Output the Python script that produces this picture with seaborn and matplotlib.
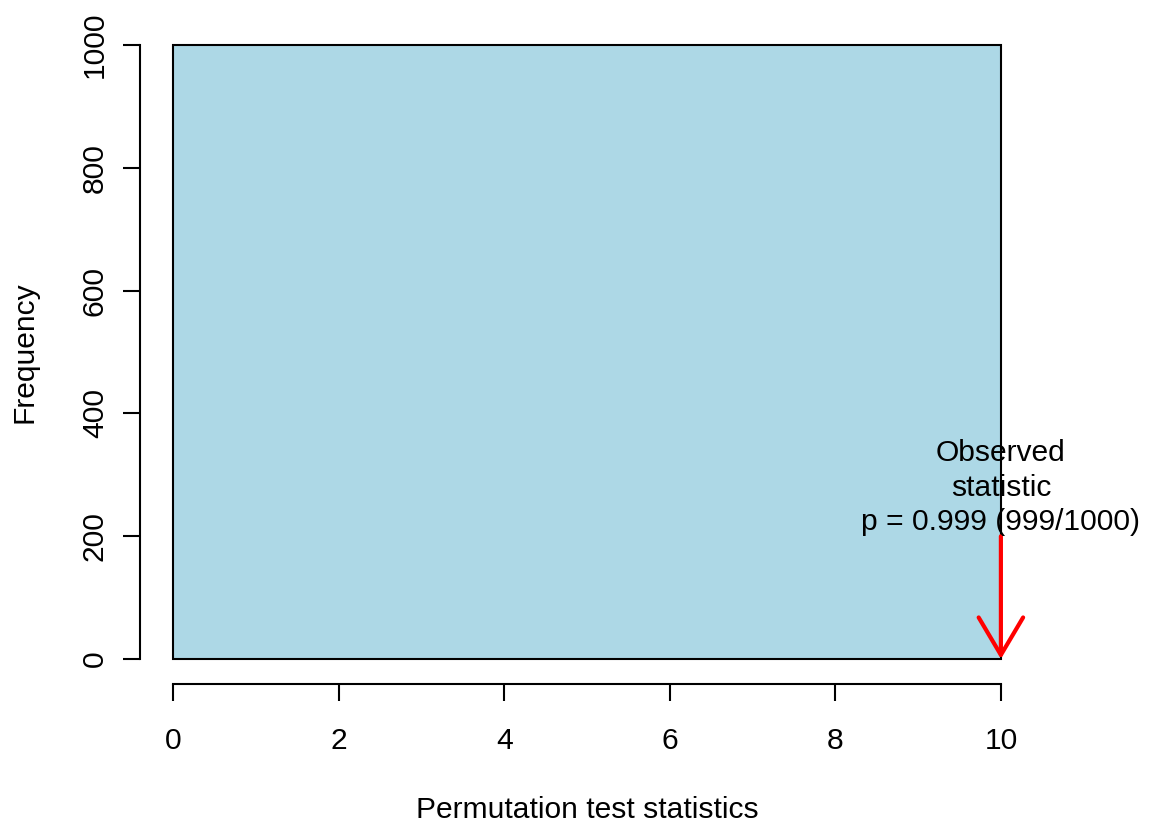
import matplotlib
matplotlib.use("Agg")
import matplotlib.pyplot as plt
import seaborn as sns

# Permutation distribution, summarised as histogram bins
bin_edges = [0, 10]
bin_counts = [1000]
bin_mids = [5]

observed_stat = 10
arrow_top = 200
p_value = 0.999
n_extreme = 999
n_perm = 1000

x_ticks = [0, 2, 4, 6, 8, 10]
y_ticks = [0, 200, 400, 600, 800, 1000]

sns.set_style("ticks")
plt.rcParams["font.family"] = ["Liberation Sans", "DejaVu Sans"]
plt.rcParams["text.color"] = "black"
plt.rcParams["axes.labelcolor"] = "black"
FS = 21.6

W, H = 1153, 825
fig = plt.figure(figsize=(W / 100, H / 100), dpi=100)
ax = fig.add_axes([140 / W, (H - 683.6) / H, (1034 - 140) / W, (683.6 - 20.4) / H])

sns.histplot(x=bin_mids, weights=bin_counts, bins=bin_edges, ax=ax,
             color="#ADD8E6", edgecolor="black", linewidth=1.5, alpha=1.0)

ax.set_xlim(-0.4, 10.4)
ax.set_ylim(-40, 1040)

for s in ["top", "right"]:
    ax.spines[s].set_visible(False)
ax.spines["left"].set_bounds(0, 1000)
ax.spines["bottom"].set_bounds(0, 10)
for s in ["left", "bottom"]:
    ax.spines[s].set_linewidth(1.5)
    ax.spines[s].set_color("black")

ax.set_xticks(x_ticks)
ax.set_xticklabels([str(v) for v in x_ticks])
ax.set_yticks(y_ticks)
ax.set_yticklabels([str(v) for v in y_ticks], rotation=90, va="center")
ax.tick_params(axis="both", direction="out", length=12.5, width=1.5,
               labelsize=FS, colors="black")
ax.tick_params(axis="x", pad=18.5)
ax.tick_params(axis="y", pad=10)

ax.set_xlabel("Permutation test statistics", fontsize=FS)
ax.set_ylabel("Frequency", fontsize=FS)
ax.xaxis.set_label_coords(0.5, -0.1695)
ax.yaxis.set_label_coords(-0.114, 0.5)

ax.annotate("", xy=(observed_stat, 0), xytext=(observed_stat, arrow_top),
            arrowprops=dict(arrowstyle="->,head_length=27,head_width=16",
                            mutation_scale=1, color="red", lw=3,
                            shrinkA=0, shrinkB=0))
ax.text(observed_stat, arrow_top,
        f"Observed\nstatistic\np = {p_value} ({n_extreme}/{n_perm})",
        ha="center", va="bottom", fontsize=FS, linespacing=1.3,
        multialignment="center")

fig.savefig("out.png", dpi=100)
